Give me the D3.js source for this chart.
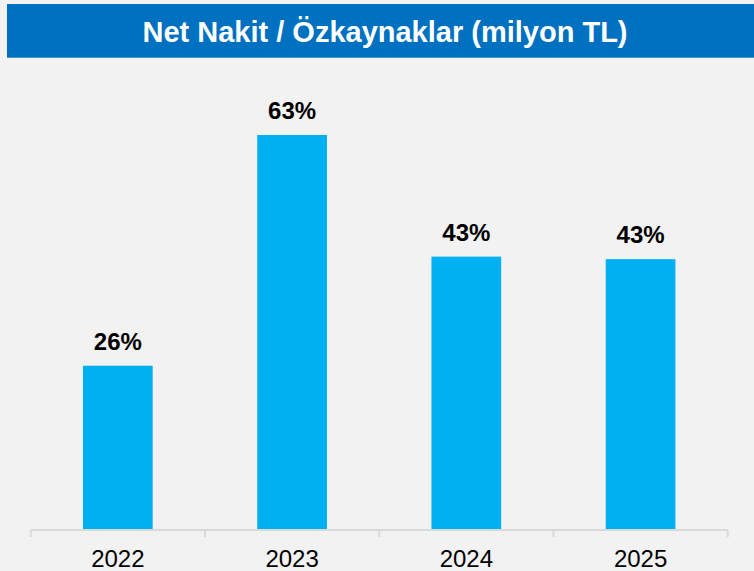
<!DOCTYPE html>
<html>
<head>
<meta charset="utf-8">
<script src="https://cdn.jsdelivr.net/npm/d3@7/dist/d3.min.js"></script>
<style>
  html, body { margin: 0; padding: 0; background: #F2F2F2; }
  svg { display: block; }
</style>
</head>
<body>
<script>
const title = "Net Nakit / Özkaynaklar (milyon TL)";
const categories = ["2022", "2023", "2024", "2025"];
const values = [26.2, 63.0, 43.6, 43.2];
const valueLabels = ["26%", "63%", "43%", "43%"];

const W = 754, H = 571;
const svg = d3.select("body").append("svg").attr("width", W).attr("height", H);

svg.append("rect").attr("x", 0).attr("y", 0).attr("width", W).attr("height", H).attr("fill", "#F2F2F2");

// Title bar
svg.append("rect").attr("x", 7).attr("y", 4).attr("width", W - 7).attr("height", 53.7).attr("fill", "#0070C0");
svg.append("text")
  .attr("x", 385).attr("y", 42)
  .attr("text-anchor", "middle")
  .attr("font-family", "Liberation Sans, Arial, sans-serif")
  .attr("font-weight", "bold")
  .attr("font-size", 29)
  .attr("fill", "#FFFFFF")
  .text(title);

const baseY = 530;
const x = d3.scaleBand().domain(categories).range([30.7, 727.7]).paddingInner(0.6).paddingOuter(0.3);
const y = d3.scaleLinear().domain([0, 70]).range([baseY, baseY - 70 * (395 / 63)]);

// Bars
svg.selectAll("rect.bar").data(categories).enter().append("rect")
  .attr("class", "bar")
  .attr("x", d => x(d))
  .attr("width", x.bandwidth())
  .attr("y", (d, i) => y(values[i]))
  .attr("height", (d, i) => y(0) - y(values[i]))
  .attr("fill", "#00B0F0");

// Value labels
svg.selectAll("text.val").data(categories).enter().append("text")
  .attr("class", "val")
  .attr("x", d => x(d) + x.bandwidth() / 2)
  .attr("y", (d, i) => y(values[i]) - 15.7)
  .attr("text-anchor", "middle")
  .attr("font-family", "Liberation Sans, Arial, sans-serif")
  .attr("font-weight", "bold")
  .attr("font-size", 24)
  .attr("fill", "#000000")
  .text((d, i) => valueLabels[i]);

// Axis
const axisG = svg.append("g");
const step = x.step();
const left = 30.7, right = 727.7;
axisG.append("line")
  .attr("x1", left).attr("x2", right)
  .attr("y1", baseY).attr("y2", baseY)
  .attr("stroke", "#D9D9D9").attr("stroke-width", 2);
const boundaries = d3.range(categories.length + 1).map(i => left + i * (right - left) / categories.length);
axisG.selectAll("line.tick").data(boundaries).enter().append("line")
  .attr("class", "tick")
  .attr("x1", d => d).attr("x2", d => d)
  .attr("y1", baseY).attr("y2", baseY + 7)
  .attr("stroke", "#D9D9D9").attr("stroke-width", 2);

axisG.selectAll("text.cat").data(categories).enter().append("text")
  .attr("class", "cat")
  .attr("x", d => x(d) + x.bandwidth() / 2)
  .attr("y", 567)
  .attr("text-anchor", "middle")
  .attr("font-family", "Liberation Sans, Arial, sans-serif")
  .attr("font-size", 24)
  .attr("fill", "#000000")
  .text(d => d);
</script>
</body>
</html>
